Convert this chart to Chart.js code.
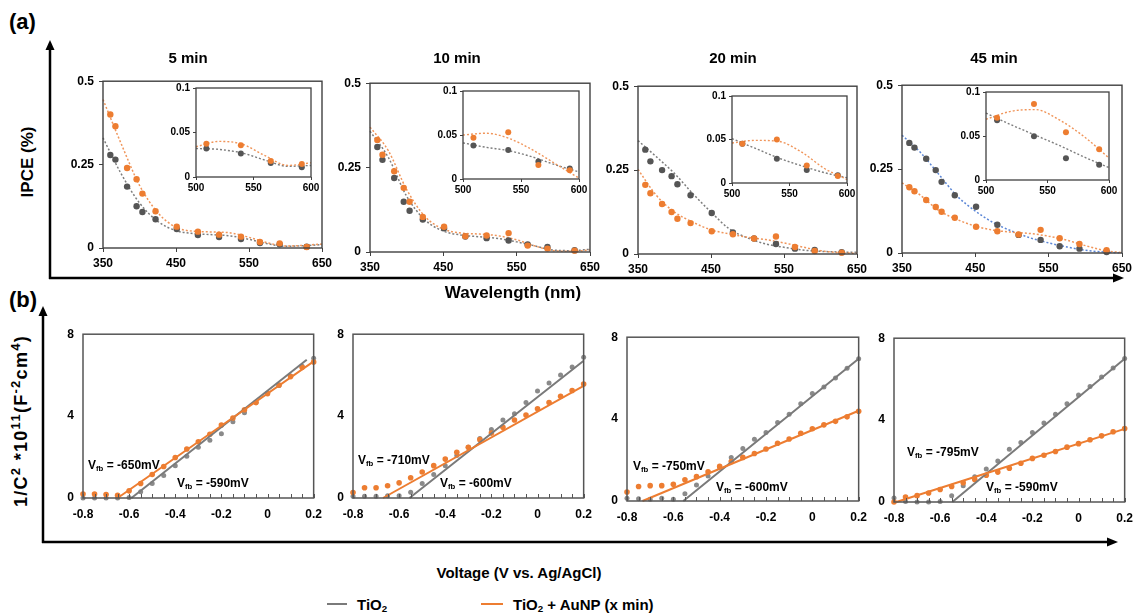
<!DOCTYPE html>
<html><head><meta charset="utf-8">
<script src="https://cdn.jsdelivr.net/npm/chart.js@4.4.0/dist/chart.umd.min.js"></script>
<style>
html,body{margin:0;padding:0;background:#fff;overflow:hidden;}
#root{position:relative;width:1142px;height:616px;font-family:"Liberation Sans",Arial,sans-serif;color:#000;overflow:hidden;}
canvas{position:absolute;}
.t{position:absolute;white-space:nowrap;font-weight:bold;line-height:1;}
.c{transform:translate(-50%,-50%);}
.l{transform:translate(0,-50%);}
sub,sup{font-size:0.65em;line-height:0;}
sub{vertical-align:-0.25em;}
sup{vertical-align:0.55em;}
.big sup{font-size:0.72em;}
</style></head><body><div id="root">
<svg width="1142" height="616" style="position:absolute;left:0;top:0" xmlns="http://www.w3.org/2000/svg">
 <g stroke="#000" stroke-width="2.5" fill="none">
  <line x1="50" y1="279" x2="50" y2="48"/>
  <line x1="49" y1="278" x2="1114" y2="278"/>
  <line x1="43" y1="543" x2="43" y2="314"/>
  <line x1="42" y1="542" x2="1108" y2="542"/>
 </g>
 <g fill="#000">
  <polygon points="50,40 45.5,50 54.5,50"/>
  <polygon points="1124,278 1113,273.5 1113,282.5"/>
  <polygon points="43,306 38.5,316 47.5,316"/>
  <polygon points="1118,542 1107,537.5 1107,546.5"/>
 </g>
</svg>
</div>
<script>
// ---------------- DATA ----------------
// (a) IPCE: LED wavelengths (nm) and measured IPCE (%)
const wavelengths = [360, 367, 383, 396, 404, 422, 451, 480, 509, 539, 565, 592, 629];
const ipceTiO2_5  = [0.279, 0.265, 0.184, 0.125, 0.108, 0.086, 0.057, 0.039, 0.033, 0.027, 0.015, 0.011, 0.004];
const ipceAu_5    = [0.400, 0.365, 0.240, 0.206, 0.163, 0.110, 0.064, 0.049, 0.040, 0.034, 0.018, 0.014, 0.003];
const ipceTiO2_10 = [0.311, 0.273, 0.219, 0.149, 0.122, 0.096, 0.070, 0.046, 0.041, 0.034, 0.022, 0.015, 0.005];
const ipceAu_10   = [0.332, 0.288, 0.239, 0.190, 0.149, 0.104, 0.075, 0.047, 0.049, 0.056, 0.019, 0.010, 0.004];
const ipceTiO2_20 = [0.311, 0.276, 0.250, 0.232, 0.208, 0.175, 0.122, 0.064, 0.046, 0.030, 0.016, 0.012, 0.005];
const ipceAu_20   = [0.206, 0.181, 0.149, 0.125, 0.105, 0.092, 0.068, 0.059, 0.046, 0.052, 0.021, 0.009, 0.004];
const ipceTiO2_45 = [0.328, 0.314, 0.281, 0.247, 0.212, 0.172, 0.138, 0.084, 0.054, 0.039, 0.020, 0.013, 0.003];
const ipceAu_45   = [0.196, 0.184, 0.158, 0.137, 0.123, 0.105, 0.078, 0.065, 0.055, 0.069, 0.044, 0.027, 0.008];

// trend curves
const trendWl = [350, 375, 400, 425, 450, 475, 500, 525, 550, 575, 600, 625, 650];
const trendTiO2_5  = [0.330, 0.222, 0.135, 0.080, 0.052, 0.043, 0.040, 0.036, 0.026, 0.013, 0.005, 0.007, 0.010];
const trendAu_5    = [0.445, 0.312, 0.188, 0.106, 0.062, 0.050, 0.048, 0.045, 0.032, 0.016, 0.006, 0.008, 0.012];
const trendTiO2_10 = [0.358, 0.280, 0.165, 0.095, 0.062, 0.050, 0.045, 0.040, 0.030, 0.018, 0.006, 0.004, 0.008];
const trendAu_10   = [0.370, 0.300, 0.185, 0.105, 0.068, 0.056, 0.053, 0.048, 0.036, 0.018, 0.004, 0.002, 0.006];
const trendTiO2_20 = [0.338, 0.290, 0.240, 0.180, 0.125, 0.075, 0.048, 0.030, 0.020, 0.012, 0.008, 0.006, 0.005];
const trendAu_20   = [0.252, 0.175, 0.125, 0.095, 0.072, 0.060, 0.050, 0.043, 0.033, 0.021, 0.010, 0.004, 0.002];
const trendTiO2_45 = [0.351, 0.300, 0.235, 0.170, 0.125, 0.090, 0.065, 0.045, 0.030, 0.018, 0.008, 0.003, 0.000];
const trendAu_45   = [0.209, 0.172, 0.127, 0.100, 0.080, 0.068, 0.062, 0.058, 0.050, 0.038, 0.022, 0.008, 0.001];

// insets (500-600 nm)
const insetWl = [509, 539, 565, 592];
const insetTiO2_5  = [0.0320, 0.0265, 0.0156, 0.0110];
const insetAu_5    = [0.0375, 0.0356, 0.0180, 0.0145];
const insetTiO2_10 = [0.0380, 0.0330, 0.0200, 0.0120];
const insetAu_10   = [0.0470, 0.0530, 0.0160, 0.0100];
const insetTiO2_20 = [0.0450, 0.0280, 0.0150, 0.0090];
const insetAu_20   = [0.0450, 0.0500, 0.0200, 0.0080];
const insetTiO2_45 = [0.0680, 0.0496, 0.0246, 0.0173];
const insetAu_45   = [0.0706, 0.0864, 0.0544, 0.0349];
const insetTrendWl = [500, 520, 540, 560, 580, 600];
const insetTrendTiO2_5  = [0.032, 0.031, 0.027, 0.019, 0.012, 0.013];
const insetTrendAu_5    = [0.034, 0.040, 0.037, 0.024, 0.013, 0.016];
const insetTrendTiO2_10 = [0.041, 0.036, 0.032, 0.025, 0.016, 0.008];
const insetTrendAu_10   = [0.050, 0.052, 0.046, 0.033, 0.017, 0.001];
const insetTrendTiO2_20 = [0.051, 0.040, 0.029, 0.020, 0.012, 0.006];
const insetTrendAu_20   = [0.046, 0.049, 0.048, 0.036, 0.017, 0.004];
const insetTrendTiO2_45 = [0.076, 0.063, 0.051, 0.039, 0.026, 0.014];
const insetTrendAu_45   = [0.069, 0.078, 0.080, 0.068, 0.049, 0.025];

const ipceXTicks = [350, 450, 550, 650];
const ipceYTicks = [0, 0.25, 0.5];
const insetXTicks = [500, 550, 600];
const insetYTicks = [0, 0.05, 0.1];
const ipceTitles = ['5 min', '10 min', '20 min', '45 min'];

// (b) Mott-Schottky: 1/C^2 (x1e11) vs voltage
const voltages = [-0.8, -0.75, -0.7, -0.65, -0.6, -0.55, -0.5, -0.45, -0.4, -0.35, -0.3, -0.25, -0.2, -0.15, -0.1, -0.05, 0, 0.05, 0.1, 0.15, 0.2];
const msTiO2_5  = [0, 0, 0, 0, 0.02, 0.31, 0.71, 1.10, 1.58, 2.04, 2.48, 2.82, 3.14, 3.73, 4.16, 4.66, 5.10, 5.50, 5.96, 6.43, 6.82];
const msAu_5    = [0.19, 0.19, 0.17, 0.13, 0.35, 0.71, 1.15, 1.54, 1.98, 2.39, 2.75, 3.11, 3.56, 3.91, 4.31, 4.66, 5.10, 5.52, 5.93, 6.38, 6.64];
const msTiO2_10 = [0.08, 0.08, 0.08, 0.11, 0.11, 0.28, 0.71, 1.15, 1.57, 2.07, 2.48, 2.90, 3.34, 3.81, 4.11, 4.67, 5.22, 5.62, 6.01, 6.40, 6.87];
const msAu_10   = [0.27, 0.50, 0.50, 0.60, 0.74, 0.99, 1.27, 1.58, 1.90, 2.23, 2.48, 2.85, 3.17, 3.45, 3.81, 4.05, 4.36, 4.66, 4.97, 5.25, 5.57];
const msTiO2_20 = [0.13, 0.11, 0.08, 0.13, 0.09, 0.36, 0.78, 1.22, 1.65, 2.12, 2.56, 3.01, 3.34, 3.84, 4.24, 4.75, 5.25, 5.57, 6.01, 6.48, 6.95];
const msAu_20   = [0.44, 0.71, 0.75, 0.75, 0.82, 1.04, 1.19, 1.43, 1.69, 1.93, 2.13, 2.32, 2.54, 2.82, 3.03, 3.31, 3.53, 3.72, 3.89, 4.11, 4.38];
const msTiO2_45 = [0.19, 0.03, 0, 0, 0.02, 0.31, 0.79, 1.23, 1.61, 2.00, 2.58, 2.91, 3.39, 3.86, 4.28, 4.80, 5.23, 5.64, 6.11, 6.54, 7.01];
const msAu_45   = [0, 0.24, 0.31, 0.44, 0.61, 0.76, 0.94, 1.10, 1.31, 1.46, 1.65, 1.89, 2.13, 2.28, 2.47, 2.68, 2.85, 3.04, 3.23, 3.43, 3.59];
// linear fits: [x start, y start, x end, y end]
const msFitTiO2 = [[-0.59, 0, 0.17, 6.75], [-0.555, 0, 0.2, 6.70], [-0.557, 0, 0.2, 6.95], [-0.547, 0, 0.2, 7.00]];
const msFitAu   = [[-0.65, 0, 0.2, 6.67], [-0.67, 0, 0.2, 5.48], [-0.733, 0, 0.2, 4.41], [-0.79, 0, 0.2, 3.57]];
const vfbAu   = ['-650', '-710', '-750', '-795'];
const vfbTiO2 = ['-590', '-600', '-600', '-590'];
const msXLabels = [-0.8, -0.6, -0.4, -0.2, 0, 0.2];
const msYTicks = [0, 4, 8];

// ---------------- DRAWING ----------------
const root = document.getElementById('root');
const FONT = '"Liberation Sans", Arial, sans-serif';
const GRAY_PT = '#555555', ORANGE = '#ED7D31', GRAY_CURVE = '#7d7d7d', ORANGE_CURVE = '#F0955A', BLUE_CURVE = '#5B86D6';

const pts = (xs, ys) => xs.map((x, i) => ({x, y: ys[i]}));

const framePlugin = {
  id: 'frame',
  beforeDraw(ch, a, o) {
    if (o.fill) { const c = ch.chartArea, ctx = ch.ctx; ctx.save(); ctx.fillStyle = '#fff'; ctx.fillRect(c.left, c.top, c.right - c.left, c.bottom - c.top); ctx.restore(); }
  },
  afterDraw(ch, a, o) {
    const c = ch.chartArea, ctx = ch.ctx;
    ctx.save();
    ctx.strokeStyle = o.color || '#404040'; ctx.lineWidth = o.width || 1.3;
    ctx.strokeRect(c.left, c.top, c.right - c.left, c.bottom - c.top);
    if (o.innerTicks) {
      const xs = ch.scales.x;
      ctx.lineWidth = 1;
      xs.ticks.forEach(t => { const px = Math.round(xs.getPixelForValue(t.value)) + 0.5; ctx.beginPath(); ctx.moveTo(px, c.bottom); ctx.lineTo(px, c.bottom - 4); ctx.stroke(); });
    }
    ctx.restore();
  }
};

function makeChart(area, pad, datasets, sx, sy, frameOpts) {
  const c = document.createElement('canvas');
  const L = area[0] - pad.l, T = area[2] - pad.t;
  const W = area[1] - area[0] + pad.l + pad.r, H = area[3] - area[2] + pad.t + pad.b;
  c.width = W; c.height = H;
  c.style.left = L + 'px'; c.style.top = T + 'px'; c.style.width = W + 'px'; c.style.height = H + 'px';
  root.appendChild(c);
  const axis = (s, isX) => ({
    type: 'linear', min: s.min, max: s.max,
    afterBuildTicks: sc => { sc.ticks = s.ticks.map(v => ({value: v})); },
    ticks: {autoSkip: false, maxRotation: 0, minRotation: 0, padding: s.padding, color: '#000',
      font: {family: FONT, size: s.size, weight: 'bold'}, callback: s.fmt || (v => String(v))},
    grid: {display: true, drawOnChartArea: false, drawTicks: s.tickLen > 0, tickLength: s.tickLen, color: '#404040', lineWidth: 1},
    border: {display: false},
    afterFit: sc => { if (isX) sc.height = pad.b; else sc.width = pad.l; }
  });
  return new Chart(c, {
    type: 'scatter',
    data: {datasets},
    options: {
      responsive: false, animation: false, events: [],
      layout: {padding: {left: 0, top: pad.t, right: pad.r, bottom: 0}},
      plugins: {legend: {display: false}, tooltip: {enabled: false}, frame: frameOpts},
      scales: {x: axis(sx, true), y: axis(sy, false)}
    },
    plugins: [framePlugin]
  });
}

const pointDs = (data, color, r) => ({data, showLine: false, pointRadius: r, pointHoverRadius: r, pointBackgroundColor: color, pointBorderWidth: 0, clip: 6});
const curveDs = (data, color, w, dash) => ({data, showLine: true, pointRadius: 0, borderColor: color, borderWidth: w, borderDash: dash || [], cubicInterpolationMode: 'monotone', clip: 2});

function addText(html, x, y, size, cls, extra) {
  const d = document.createElement('div');
  d.className = 't ' + cls;
  d.style.left = x + 'px'; d.style.top = y + 'px'; d.style.fontSize = size + 'px';
  if (extra) d.style.transform = extra;
  d.innerHTML = html;
  root.appendChild(d);
  return d;
}

// (a) panels
const ipcePanels = [
  {area: [103, 322, 79, 248], inset: [196, 311, 85, 177], tx: 188, T: ipceTiO2_5, A: ipceAu_5, tT: trendTiO2_5, tA: trendAu_5, iT: insetTiO2_5, iA: insetAu_5, itT: insetTrendTiO2_5, itA: insetTrendAu_5, tc: GRAY_CURVE},
  {area: [370, 590, 81, 252], inset: [463, 579, 88, 179], tx: 457, T: ipceTiO2_10, A: ipceAu_10, tT: trendTiO2_10, tA: trendAu_10, iT: insetTiO2_10, iA: insetAu_10, itT: insetTrendTiO2_10, itA: insetTrendAu_10, tc: GRAY_CURVE},
  {area: [638, 857, 84, 254], inset: [732, 847, 93, 183], tx: 733, T: ipceTiO2_20, A: ipceAu_20, tT: trendTiO2_20, tA: trendAu_20, iT: insetTiO2_20, iA: insetAu_20, itT: insetTrendTiO2_20, itA: insetTrendAu_20, tc: GRAY_CURVE},
  {area: [902, 1122, 83, 253], inset: [986, 1109, 89, 180], tx: 994, T: ipceTiO2_45, A: ipceAu_45, tT: trendTiO2_45, tA: trendAu_45, iT: insetTiO2_45, iA: insetAu_45, itT: insetTrendTiO2_45, itA: insetTrendAu_45, tc: BLUE_CURVE}
];

ipcePanels.forEach((p, i) => {
  makeChart(p.area, {l: 44, r: 16, t: 10, b: 26}, [
    pointDs(pts(wavelengths, p.A), ORANGE, 3.2),
    pointDs(pts(wavelengths, p.T), GRAY_PT, 3.2),
    curveDs(pts(trendWl, p.tA), ORANGE_CURVE, 1.5, [2, 2]),
    curveDs(pts(trendWl, p.tT), p.tc, 1.5, [2, 2])
  ],
  {min: 350, max: 650, ticks: ipceXTicks, size: 12, padding: 4, tickLen: 4},
  {min: 0, max: 0.5, ticks: ipceYTicks, size: 12, padding: 5, tickLen: 4},
  {color: '#404040', width: 1.4});
  makeChart(p.inset, {l: 36, r: 12, t: 6, b: 20}, [
    pointDs(pts(insetWl, p.iA), ORANGE, 3),
    pointDs(pts(insetWl, p.iT), GRAY_PT, 3),
    curveDs(pts(insetTrendWl, p.itA), ORANGE_CURVE, 1.4, [2, 2]),
    curveDs(pts(insetTrendWl, p.itT), GRAY_CURVE, 1.4, [2, 2])
  ],
  {min: 500, max: 600, ticks: insetXTicks, size: 10, padding: 2, tickLen: 3},
  {min: 0, max: 0.1, ticks: insetYTicks, size: 10, padding: 3, tickLen: 3},
  {color: '#404040', width: 1.3, fill: true});
  addText(ipceTitles[i], p.tx, 57, 15, 'c');
});

// (b) panels
const msPanels = [
  {area: [83, 320, 328, 498], T: msTiO2_5, A: msAu_5, la: [88, 465], lt: [177, 483]},
  {area: [353, 590, 328, 498], T: msTiO2_10, A: msAu_10, la: [358, 460], lt: [440, 483]},
  {area: [627, 865, 331, 501], T: msTiO2_20, A: msAu_20, la: [633, 466], lt: [716, 487]},
  {area: [894, 1131, 332, 502], T: msTiO2_45, A: msAu_45, la: [907, 452], lt: [986, 487]}
];
const msFmt = v => { const r = Math.round(v * 100) / 100; return msXLabels.some(l => Math.abs(l - r) < 1e-6) ? String(r) : ''; };
msPanels.forEach((p, i) => {
  const fT = msFitTiO2[i], fA = msFitAu[i];
  makeChart(p.area, {l: 40, r: 11, t: 10, b: 26}, [
    curveDs([{x: fA[0], y: fA[1]}, {x: fA[2], y: fA[3]}], ORANGE, 2),
    curveDs([{x: fT[0], y: fT[1]}, {x: fT[2], y: fT[3]}], '#7a7a7a', 2),
    pointDs(pts(voltages, p.A), ORANGE, 2.8),
    pointDs(pts(voltages, p.T), '#8a8a8a', 2.5)
  ],
  {min: -0.8, max: 0.2, ticks: voltages, size: 12, padding: 9, tickLen: 0, fmt: msFmt},
  {min: 0, max: 8, ticks: msYTicks, size: 12, padding: 9, tickLen: 0},
  {color: '#555', width: 1.5, innerTicks: true});
  addText('V<sub>fb</sub> = ' + vfbAu[i] + 'mV', p.la[0], p.la[1], 12, 'l');
  addText('V<sub>fb</sub> = ' + vfbTiO2[i] + 'mV', p.lt[0], p.lt[1], 12, 'l');
});

addText('(a)', 9, 22, 22, 'l');
addText('(b)', 9, 300, 22, 'l');
addText('IPCE (%)', 27, 162, 17, 'c', 'translate(-50%,-50%) rotate(-90deg)');
const yl = addText('1/C<sup>2</sup> *10<sup>11</sup>(F<sup>-2</sup>cm<sup>4</sup>)', 21, 421, 18, 'c big', 'translate(-50%,-50%) rotate(-90deg)');
yl.style.letterSpacing = '1.3px';
addText('Wavelength (nm)', 513, 292, 17, 'c');
addText('Voltage (V vs. Ag/AgCl)', 519, 572, 15, 'c');
// legend
const lg1 = addText('', 327, 604, 15, 'l'); lg1.style.width = '20px'; lg1.style.borderTop = '2px solid #7a7a7a';
addText('TiO<sub>2</sub>', 357, 604, 15, 'l');
const lg2 = addText('', 481, 604, 15, 'l'); lg2.style.width = '22px'; lg2.style.borderTop = '2px solid #ED7D31';
addText('TiO<sub>2</sub> + AuNP (x min)', 513, 604, 15, 'l');
</script>
</body></html>
